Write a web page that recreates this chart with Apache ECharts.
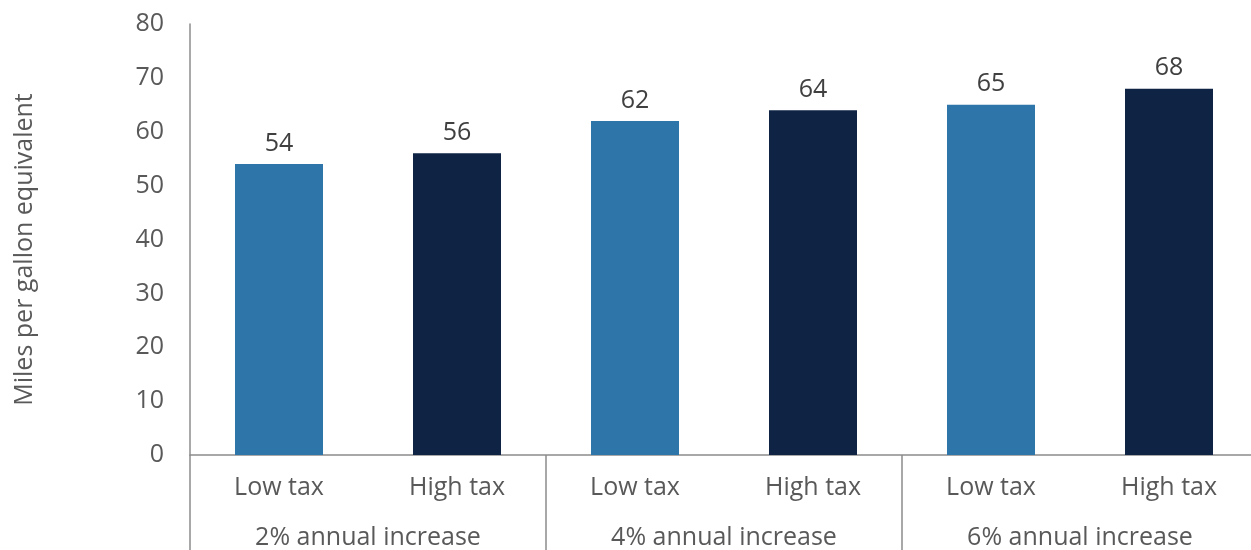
<!DOCTYPE html>
<html>
<head>
<meta charset="utf-8">
<style>
  html, body { margin: 0; padding: 0; background: #ffffff; overflow: hidden; }
  #chart { width: 1260px; height: 550px; }
</style>
<script src="https://cdn.jsdelivr.net/npm/echarts@6/dist/echarts.min.js"></script>
</head>
<body>
<div id="chart"></div>
<script>
// Fuel economy by scenario (miles per gallon equivalent)
const taxLevels = ['Low tax', 'High tax', 'Low tax', 'High tax', 'Low tax', 'High tax'];
const scenarios = ['2% annual increase', '4% annual increase', '6% annual increase'];
const mpgeValues = [54, 56, 62, 64, 65, 68];
const yTicks = { min: 0, max: 80, interval: 10 };

const FONT = '"Open Sans", "Noto Sans", sans-serif';
const AXIS_GRAY = '#8c8c8c';
const TEXT_GRAY = '#595959';
const LOW_COLOR = '#2E76AA';
const HIGH_COLOR = '#0F2344';

const chart = echarts.init(document.getElementById('chart'), null, { renderer: 'canvas' });

chart.setOption({
  animation: false,
  // the plot runs slightly past the right edge of the visible page
  grid: { left: 190, top: 24, right: 2, bottom: 94, containLabel: false },
  xAxis: [
    {
      type: 'category',
      data: taxLevels,
      position: 'bottom',
      axisLine: { show: true, lineStyle: { color: AXIS_GRAY, width: 1.5 } },
      axisTick: { show: false },
      axisLabel: { fontFamily: FONT, fontSize: 25, color: TEXT_GRAY, margin: 20 }
    },
    {
      type: 'category',
      data: scenarios,
      position: 'bottom',
      axisLine: { show: false },
      axisTick: { show: true, length: 96, lineStyle: { color: AXIS_GRAY, width: 1.5 } },
      axisLabel: { fontFamily: FONT, fontSize: 25, color: TEXT_GRAY, margin: 70 }
    }
  ],
  yAxis: {
    type: 'value',
    min: yTicks.min,
    max: yTicks.max,
    interval: yTicks.interval,
    name: 'Miles per gallon equivalent',
    nameLocation: 'middle',
    nameGap: 153,
    nameRotate: 90,
    nameTextStyle: { fontFamily: FONT, fontSize: 25, color: TEXT_GRAY, padding: [0, 20, 0, 0] },
    axisLine: { show: true, lineStyle: { color: AXIS_GRAY, width: 1.5 } },
    axisTick: { show: false },
    splitLine: { show: false },
    axisLabel: { fontFamily: FONT, fontSize: 25, color: TEXT_GRAY, margin: 26 }
  },
  series: [
    {
      type: 'bar',
      xAxisIndex: 0,
      barWidth: 88,
      data: mpgeValues.map((v, i) => ({
        value: v,
        itemStyle: { color: taxLevels[i] === 'Low tax' ? LOW_COLOR : HIGH_COLOR }
      })),
      label: {
        show: true,
        position: 'top',
        distance: 8,
        fontFamily: FONT,
        fontSize: 25,
        color: '#404040'
      }
    }
  ]
});
</script>
</body>
</html>
